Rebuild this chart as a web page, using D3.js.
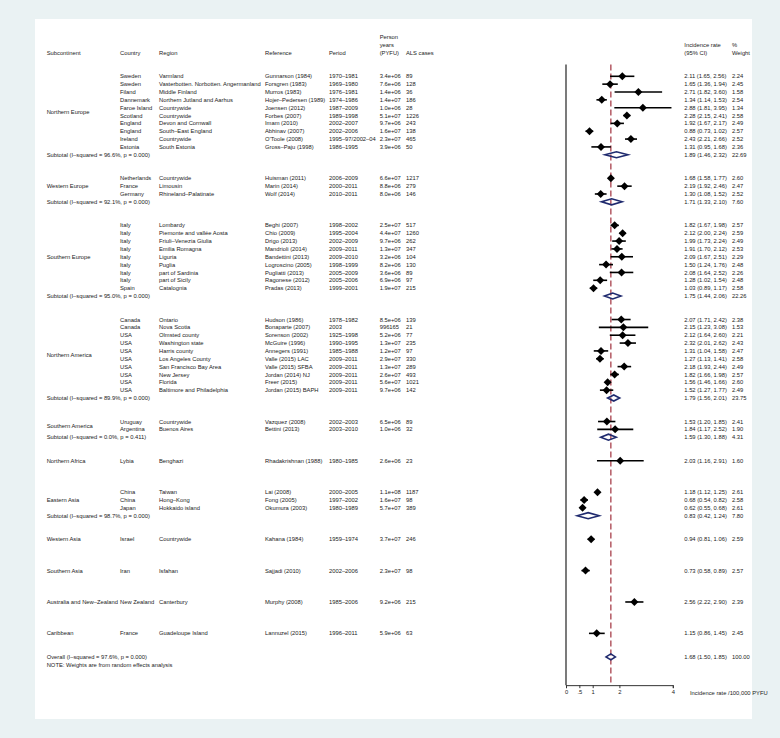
<!DOCTYPE html>
<html>
<head>
<meta charset="utf-8">
<script src="https://cdn.jsdelivr.net/npm/d3@7"></script>
<style>
  html, body { margin: 0; padding: 0; background: #eaf2f3; }
  svg { display: block; font-family: "Liberation Sans", Arial, sans-serif; }
</style>
</head>
<body>
<svg id="chart" width="780" height="738"></svg>
<script>
// one entry per study
const groupOf = [0,0,0,0,0,0,0,0,0,0, 1,1,1, 2,2,2,2,2,2,2,2,2, 3,3,3,3,3,3,3,3,3,3, 4,4, 5, 6,6,6, 7, 8, 9, 10];
const groupNames = ['Northern Europe', 'Western Europe', 'Southern Europe', 'Northern America', 'Southern America',
  'Northern Africa', 'Eastern Asia', 'Western Asia', 'Southern Asia', 'Australia and New\u2013Zealand', 'Caribbean'];
const countries = ['Sweden', 'Sweden', 'Filand', 'Dannemark', 'Faroe Island', 'Scotland', 'England', 'England', 'Ireland', 'Estonia',
  'Netherlands', 'France', 'Germany',
  'Italy', 'Italy', 'Italy', 'Italy', 'Italy', 'Italy', 'Italy', 'Italy', 'Spain',
  'Canada', 'Canada', 'USA', 'USA', 'USA', 'USA', 'USA', 'USA', 'USA', 'USA',
  'Uruguay', 'Argentina', 'Lybia', 'China', 'China', 'Japan', 'Israel', 'Iran', 'New Zealand', 'France'];
const regions = ['Varmland', 'Vasterbotten. Norbotten. Angermanland', 'Middle Finland', 'Northern Jutland and Aarhus', 'Countrywide',
  'Countrywide', 'Devon and Cornwall', 'South\u2013East England', 'Countrywide', 'South Estonia',
  'Countrywide', 'Limousin', 'Rhineland\u2013Palatinate',
  'Lombardy', 'Piemonte and vall\u00e9e Aosta', 'Friuli\u2013Venezia Giulia', 'Emilia Romagna', 'Liguria', 'Puglia',
  'part of Sardinia', 'part of Sicily', 'Catalognia',
  'Ontario', 'Nova Scotia', 'Olmsted county', 'Washington state', 'Harris county', 'Los Angeles County',
  'San Francisco Bay Area', 'New Jersey', 'Florida', 'Baltimore and Philadelphia',
  'Countrywide', 'Buenos Aires', 'Benghazi', 'Taiwan', 'Hong\u2013Kong', 'Hokkaido island', 'Countrywide', 'Isfahan',
  'Canterbury', 'Guadeloupe Island'];
const references = ['Gunnarson (1984)', 'Forsgren (1983)', 'Murros (1983)', 'Hojer\u2013Pedersen (1989)', 'Joensen (2012)',
  'Forbes (2007)', 'Imam (2010)', 'Abhinav (2007)', 'O\u2019Toole (2008)', 'Gross\u2013Paju (1998)',
  'Huisman (2011)', 'Marin (2014)', 'Wolf (2014)',
  'Beghi (2007)', 'Chio (2009)', 'Drigo (2013)', 'Mandrioli (2014)', 'Bandettini (2013)', 'Logroscino (2005)',
  'Pugliatti (2013)', 'Ragonese (2012)', 'Pradas (2013)',
  'Hudson (1986)', 'Bonaparte (2007)', 'Sorenson (2002)', 'McGuire (1996)', 'Annegers (1991)', 'Valle (2015) LAC',
  'Valle (2015) SFBA', 'Jordan (2014) NJ', 'Freer (2015)', 'Jordan (2015) BAPH',
  'Vazquez (2008)', 'Bettini (2013)', 'Rhadakrishnan (1988)', 'Lai (2008)', 'Fong (2005)', 'Okumura (2003)',
  'Kahana (1984)', 'Sajjadi (2010)', 'Murphy (2008)', 'Lannuzel (2015)'];
const periods = ['1970\u20131981', '1969\u20131980', '1976\u20131981', '1974\u20131986', '1987\u20132009', '1989\u20131998',
  '2002\u20132007', '2002\u20132006', '1995\u201397/2002\u201304', '1986\u20131995',
  '2006\u20132009', '2000\u20132011', '2010\u20132011',
  '1998\u20132002', '1995\u20132004', '2002\u20132009', '2009\u20132011', '2009\u20132010', '1998\u20131999',
  '2005\u20132009', '2005\u20132006', '1999\u20132001',
  '1978\u20131982', '2003', '1925\u20131998', '1990\u20131995', '1985\u20131988', '2009\u20132011', '2009\u20132011',
  '2009\u20132011', '2009\u20132011', '2009\u20132011',
  '2002\u20132003', '2003\u20132010', '1980\u20131985', '2000\u20132005', '1997\u20132002', '1980\u20131989',
  '1959\u20131974', '2002\u20132006', '1985\u20132006', '1996\u20132011'];
const personYears = ['3.4e+06', '7.6e+06', '1.4e+06', '1.4e+07', '1.0e+06', '5.1e+07', '9.7e+06', '1.6e+07', '2.3e+07', '3.9e+06',
  '6.6e+07', '8.8e+06', '8.0e+06',
  '2.5e+07', '4.4e+07', '9.7e+06', '1.3e+07', '3.2e+06', '8.2e+06', '3.6e+06', '6.9e+06', '1.9e+07',
  '8.5e+06', '996165', '5.2e+06', '1.3e+07', '1.2e+07', '2.9e+07', '1.3e+07', '2.6e+07', '5.6e+07', '9.7e+06',
  '6.5e+06', '1.0e+06', '2.6e+06', '1.1e+08', '1.6e+07', '5.7e+07', '3.7e+07', '2.3e+07', '9.2e+06', '5.9e+06'];
const alsCases = [89, 128, 36, 186, 28, 1226, 243, 138, 465, 50,
  1217, 279, 146,
  517, 1260, 262, 347, 104, 130, 89, 97, 215,
  139, 21, 77, 235, 97, 330, 289, 493, 1021, 142,
  89, 32, 23, 1187, 98, 389, 246, 98, 215, 63];
const rates = [2.11, 1.65, 2.71, 1.34, 2.88, 2.28, 1.92, 0.88, 2.43, 1.31,
  1.68, 2.19, 1.30,
  1.82, 2.12, 1.99, 1.91, 2.09, 1.50, 2.08, 1.28, 1.03,
  2.07, 2.15, 2.12, 2.32, 1.31, 1.27, 2.18, 1.82, 1.56, 1.52,
  1.53, 1.84, 2.03, 1.18, 0.68, 0.62, 0.94, 0.73, 2.56, 1.15];
const lower = [1.65, 1.36, 1.82, 1.14, 1.81, 2.15, 1.67, 0.73, 2.21, 0.95,
  1.58, 1.92, 1.08,
  1.67, 2.00, 1.73, 1.70, 1.67, 1.24, 1.64, 1.02, 0.89,
  1.71, 1.23, 1.64, 2.01, 1.04, 1.13, 1.93, 1.66, 1.46, 1.27,
  1.20, 1.17, 1.16, 1.12, 0.54, 0.55, 0.81, 0.58, 2.22, 0.86];
const upper = [2.56, 1.94, 3.60, 1.53, 3.95, 2.41, 2.17, 1.02, 2.66, 1.68,
  1.77, 2.46, 1.52,
  1.98, 2.24, 2.24, 2.12, 2.51, 1.76, 2.52, 1.54, 1.17,
  2.42, 3.08, 2.60, 2.62, 1.58, 1.41, 2.44, 1.98, 1.66, 1.77,
  1.85, 2.52, 2.91, 1.25, 0.82, 0.68, 1.06, 0.89, 2.90, 1.45];
const weights = ['2.24', '2.45', '1.58', '2.54', '1.34', '2.58', '2.49', '2.57', '2.52', '2.36',
  '2.60', '2.47', '2.52',
  '2.57', '2.59', '2.49', '2.53', '2.29', '2.48', '2.26', '2.48', '2.58',
  '2.38', '1.53', '2.21', '2.43', '2.47', '2.58', '2.49', '2.57', '2.60', '2.49',
  '2.41', '1.90', '1.60', '2.61', '2.58', '2.61', '2.59', '2.57', '2.39', '2.45'];

// subtotals (only groups with more than one study) and the overall estimate
const subtotalGroups = [0, 1, 2, 3, 4, 6];
const subtotalHet = ['96.6%, p = 0.000', '92.1%, p = 0.000', '95.0%, p = 0.000', '89.9%, p = 0.000', '0.0%, p = 0.411', '98.7%, p = 0.000'];
const subtotalRates = [1.89, 1.71, 1.75, 1.79, 1.59, 0.83];
const subtotalLower = [1.46, 1.33, 1.44, 1.56, 1.30, 0.42];
const subtotalUpper = [2.32, 2.10, 2.06, 2.01, 1.88, 1.24];
const subtotalWeights = ['22.69', '7.60', '22.26', '23.75', '4.31', '7.80'];
const overall = { het: '97.6%, p = 0.000', rate: 1.68, lower: 1.50, upper: 1.85, weight: '100.00' };

const xTicks = [0, 0.5, 1, 2, 4];

const svg = d3.select('#chart');
const W = 780, H = 738;
const fs = 5.8;
const fmt2 = d3.format('.2f');

const y = d3.scaleLinear().domain([0, 75]).range([76.3, 76.3 + 75 * 7.846]);
const x = d3.scaleLinear().domain([0, 4]).range([566, 672.8]);

const plotTop = y(-1.5);
const axisY = y(77.6);

svg.append('rect').attr('width', W).attr('height', H).attr('fill', '#eaf2f3');
svg.append('rect').attr('x', 35).attr('y', 19).attr('width', 717).attr('height', 700).attr('fill', '#fff');

// lay out rows: studies, then subtotal (or blank), then two blank rows
const rows = [];
let r = 0;
groupNames.forEach(function (g, gi) {
  const idx = d3.range(groupOf.length).filter(function (i) { return groupOf[i] === gi; });
  const first = r;
  idx.forEach(function (i) { rows.push({ type: 'study', i: i, row: r }); r++; });
  rows.push({ type: 'label', g: gi, row: (first + r - 1) / 2 });
  const si = subtotalGroups.indexOf(gi);
  if (si >= 0) rows.push({ type: 'subtotal', s: si, row: r });
  r += 3;
});
const overallRow = r - 1;

const cols = { sub: 46.7, country: 120, region: 159, ref: 265, period: 329, py: 379.7, als: 406, ci: 684.3, w: 732 };
const base = 2.1;

function txt(xp, yp, s, anchor) {
  return svg.append('text')
    .attr('x', xp).attr('y', yp + base)
    .attr('font-size', fs)
    .attr('fill', '#222')
    .attr('text-anchor', anchor || 'start')
    .text(s);
}

// header
const hy = y(-3);
txt(cols.sub, hy, 'Subcontinent');
txt(cols.country, hy, 'Country');
txt(cols.region, hy, 'Region');
txt(cols.ref, hy, 'Reference');
txt(cols.period, hy, 'Period');
txt(cols.py, y(-5), 'Person');
txt(cols.py, y(-4), 'years');
txt(cols.py, y(-3), '(PYFU)');
txt(cols.als, hy, 'ALS cases');
txt(cols.ci, y(-4), 'Incidence rate');
txt(cols.ci, y(-3), '(95% CI)');
txt(cols.w, y(-4), '%');
txt(cols.w, y(-3), 'Weight');

// zero line
svg.append('line')
  .attr('x1', x(0)).attr('x2', x(0))
  .attr('y1', plotTop).attr('y2', axisY)
  .attr('stroke', '#333').attr('stroke-width', 1.3);

// overall dashed line
svg.append('line')
  .attr('x1', x(overall.rate)).attr('x2', x(overall.rate))
  .attr('y1', plotTop).attr('y2', axisY)
  .attr('stroke', '#a8404c').attr('stroke-width', 1.3)
  .attr('stroke-dasharray', '6,3');

function diamond(m, lo, hi, yy) {
  const hh = 3;
  svg.append('path')
    .attr('d', 'M' + x(lo) + ',' + yy + 'L' + x(m) + ',' + (yy - hh) + 'L' + x(hi) + ',' + yy + 'L' + x(m) + ',' + (yy + hh) + 'Z')
    .attr('fill', 'none').attr('stroke', '#1f2a6e').attr('stroke-width', 1.6);
}

rows.forEach(function (d) {
  const yy = y(d.row);
  if (d.type === 'label') {
    txt(cols.sub, yy, groupNames[d.g]);
  } else if (d.type === 'study') {
    const i = d.i;
    txt(cols.country, yy, countries[i]);
    txt(cols.region, yy, regions[i]);
    txt(cols.ref, yy, references[i]);
    txt(cols.period, yy, periods[i]);
    txt(cols.py, yy, personYears[i]);
    txt(cols.als, yy, alsCases[i]);
    txt(cols.ci, yy, fmt2(rates[i]) + ' (' + fmt2(lower[i]) + ', ' + fmt2(upper[i]) + ')');
    txt(cols.w, yy, weights[i]);
    svg.append('line')
      .attr('x1', x(lower[i])).attr('x2', x(upper[i]))
      .attr('y1', yy).attr('y2', yy)
      .attr('stroke', '#000').attr('stroke-width', 1.6);
    const cx = x(rates[i]), h = 4;
    svg.append('path')
      .attr('d', 'M' + (cx - h) + ',' + yy + 'L' + cx + ',' + (yy - h) + 'L' + (cx + h) + ',' + yy + 'L' + cx + ',' + (yy + h) + 'Z')
      .attr('fill', '#000');
  } else {
    const s = d.s;
    txt(cols.sub, yy, 'Subtotal  (I\u2013squared = ' + subtotalHet[s] + ')');
    txt(cols.ci, yy, fmt2(subtotalRates[s]) + ' (' + fmt2(subtotalLower[s]) + ', ' + fmt2(subtotalUpper[s]) + ')');
    txt(cols.w, yy, subtotalWeights[s]);
    diamond(subtotalRates[s], subtotalLower[s], subtotalUpper[s], yy);
  }
});

// overall
const oy = y(overallRow);
txt(cols.sub, oy, 'Overall  (I\u2013squared = ' + overall.het + ')');
txt(cols.ci, oy, fmt2(overall.rate) + ' (' + fmt2(overall.lower) + ', ' + fmt2(overall.upper) + ')');
txt(cols.w, oy, overall.weight);
diamond(overall.rate, overall.lower, overall.upper, oy);
txt(cols.sub, y(overallRow + 1), 'NOTE: Weights are from random effects analysis');

// x axis
const axis = svg.append('g')
  .attr('transform', 'translate(0,' + axisY + ')')
  .call(d3.axisBottom(x).tickValues(xTicks).tickSize(3).tickPadding(2)
    .tickFormat(function (d) { return d === 0.5 ? '.5' : d; }));
axis.select('.domain').attr('stroke', '#333');
axis.selectAll('.tick line').attr('stroke', '#333');
axis.selectAll('text').attr('font-size', fs).attr('fill', '#222').attr('font-family', '"Liberation Sans", Arial, sans-serif');
txt(690, axisY + 7.5, 'Incidence rate /100,000 PYFU');
</script>
</body>
</html>
